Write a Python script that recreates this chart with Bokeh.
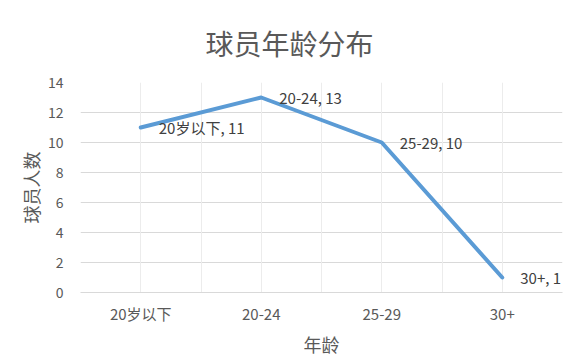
from bokeh.plotting import figure
from bokeh.models import FixedTicker, Grid, ColumnDataSource, Label, Range1d
from bokeh.core.properties import value
from bokeh.embed import file_html
from bokeh.resources import INLINE

categories = ["20岁以下", "20-24", "25-29", "30+"]
players = [11, 13, 10, 1]
y_ticks = [0, 2, 4, 6, 8, 10, 12, 14]
title_text = "球员年龄分布"
x_label = "年龄"
y_label = "球员人数"
watermark = "头条 @飞虎说球"

FONT = "Noto Sans CJK SC"
TXT = "#595959"

xs = list(range(len(categories)))
labels = [f"{c}, {v}" for c, v in zip(categories, players)]
src = ColumnDataSource(dict(x=xs, y=players, lab=labels))

p = figure(width=587, height=364, output_backend="svg", toolbar_location=None,
           x_range=Range1d(-0.5, len(categories) - 0.5), y_range=Range1d(0, 14),
           min_border_left=80, min_border_right=25, min_border_top=74, min_border_bottom=72)
p.outline_line_color = None
p.background_fill_color = "white"
p.border_fill_color = "white"

p.title.text = title_text
p.title.align = "left"
p.title.text_font = FONT
p.title.text_font_size = "28px"
p.title.text_font_style = "normal"
p.title.text_color = TXT
p.title.text_line_height = 0.6
p.title.offset = 125
p.title.standoff = 40

# grids
p.xgrid.visible = False
p.ygrid.ticker = FixedTicker(ticks=y_ticks)
p.ygrid.grid_line_color = "#d9d9d9"
vgrid = Grid(dimension=0, ticker=FixedTicker(ticks=[i * 0.5 - 0.5 for i in range(2 * len(categories) + 1)]),
             grid_line_color="#ececec")
p.add_layout(vgrid)

# x axis
xa = p.xaxis[0]
xa.ticker = FixedTicker(ticks=xs)
xa.major_label_overrides = {i: c for i, c in zip(xs, categories)}
xa.axis_line_color = "#d9d9d9"
xa.major_tick_line_color = None
xa.minor_tick_line_color = None
xa.major_label_text_font = FONT
xa.major_label_text_font_size = "15px"
xa.major_label_text_color = TXT
xa.major_label_standoff = 4
xa.axis_label = x_label
xa.axis_label_text_font = FONT
xa.axis_label_text_font_size = "18px"
xa.axis_label_text_font_style = "normal"
xa.axis_label_text_color = TXT
xa.axis_label_standoff = 4

ya = p.yaxis[0]
ya.ticker = FixedTicker(ticks=y_ticks)
ya.axis_line_color = None
ya.major_tick_line_color = None
ya.minor_tick_line_color = None
ya.major_label_text_font = FONT
ya.major_label_text_font_size = "14px"
ya.major_label_text_color = TXT
ya.major_label_standoff = 11
ya.axis_label = y_label
ya.axis_label_text_font = FONT
ya.axis_label_text_font_size = "18px"
ya.axis_label_text_font_style = "normal"
ya.axis_label_text_color = TXT
ya.axis_label_standoff = 1

p.line("x", "y", source=src, line_color="#5b9bd5", line_width=4, line_cap="round", line_join="round")
p.text("x", "y", text="lab", source=src, x_offset=18, text_baseline="middle",
       text_font=value(FONT), text_font_size="15px", text_color="#404040")

wm = Label(x=568, y=356, x_units="canvas", y_units="canvas", text=watermark, text_align="right",
           text_baseline="bottom", text_font=FONT, text_font_size="15px", text_color="#5a5a5a")
p.add_layout(wm)

open("out.html", "w").write(file_html(p, INLINE))
